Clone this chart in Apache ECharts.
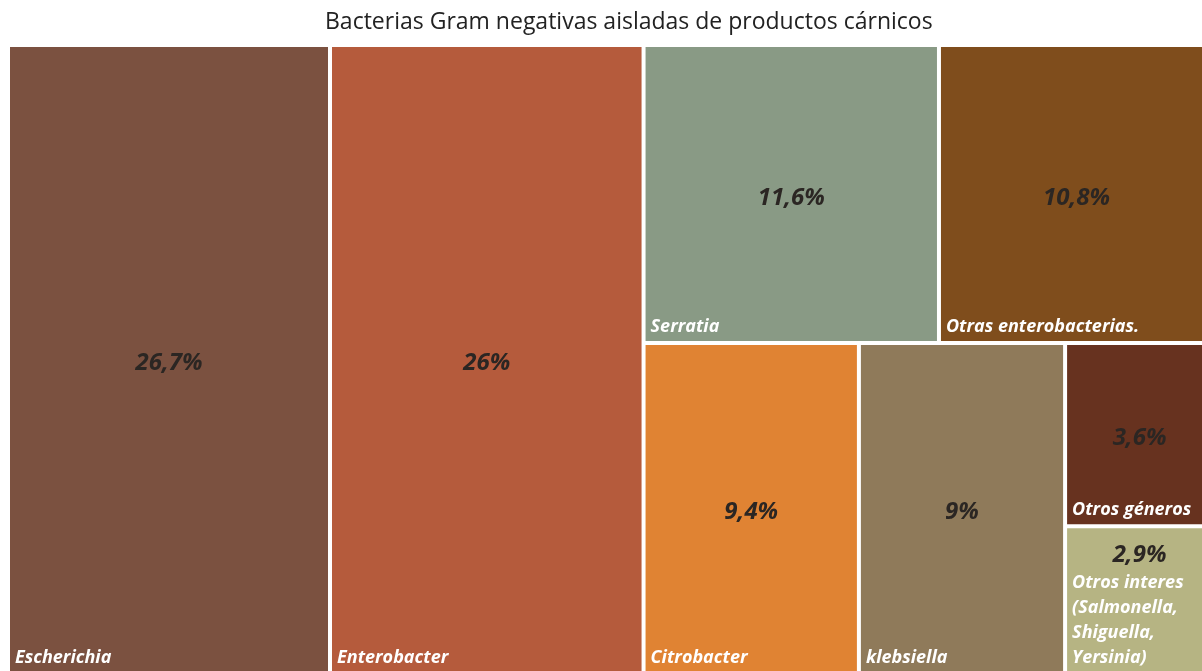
<!DOCTYPE html>
<html>
<head>
<meta charset="utf-8">
<script src="https://cdn.jsdelivr.net/npm/echarts@6/dist/echarts.min.js"></script>
<style>
html,body{margin:0;padding:0;background:#fff;}
#c{width:1202px;height:671px;}
</style>
</head>
<body>
<div id="c"></div>
<script>
const title = 'Bacterias Gram negativas aisladas de productos cárnicos';
const categories = ['Escherichia', 'Enterobacter', 'Serratia', 'Otras enterobacterias.', 'Citrobacter', 'klebsiella', 'Otros géneros', 'Otros interes (Salmonella, Shiguella, Yersinia)'];
const values = [26.7, 26, 11.6, 10.8, 9.4, 9, 3.6, 2.9];
const colors = ['#7B5140', '#B55B3C', '#899A85', '#7F4D1C', '#E08333', '#8F7A5A', '#67321F', '#B6B483'];

const FONT = '"Open Sans", "Noto Sans", sans-serif';
const fmtPct = v => String(v).replace('.', ',') + '%';

const chart = echarts.init(document.getElementById('c'), null, {renderer: 'canvas'});

const common = {
  type: 'treemap',
  left: 8, top: 45, width: 1206, height: 629,
  roam: false,
  nodeClick: false,
  breadcrumb: {show: false},
  sort: 'desc',
  squareRatio: 1,
  levels: [{itemStyle: {gapWidth: 0, borderWidth: 0}}],
  emphasis: {disabled: true},
  animation: false
};

const nameSeries = Object.assign({}, common, {
  data: categories.map((n, i) => ({
    name: n, value: values[i],
    itemStyle: {color: colors[i], borderWidth: 2, borderColor: '#ffffff', gapWidth: 0}
  })),
  label: {
    show: true,
    position: 'insideBottomLeft',
    formatter: '{b}',
    color: '#ffffff',
    fontFamily: FONT,
    fontWeight: 'bold',
    fontStyle: 'italic',
    fontSize: 18,
    lineHeight: 25,
    overflow: 'break',
    padding: [0, 2, 2, 5]
  }
});

const pctSeries = Object.assign({}, common, {
  silent: true,
  data: categories.map((n, i) => {
    const d = {
      name: n, value: values[i],
      itemStyle: {color: 'rgba(0,0,0,0)', borderWidth: 2, borderColor: 'rgba(0,0,0,0)'}
    };
    if (i === categories.length - 1) {
      d.label = {position: 'insideTop', distance: 6};
    }
    return d;
  }),
  label: {
    show: true,
    position: 'inside',
    offset: [0, 4],
    formatter: p => fmtPct(p.value),
    color: '#2b2623',
    fontFamily: FONT,
    fontWeight: 'bold',
    fontStyle: 'italic',
    fontSize: 24
  }
});

chart.setOption({
  animation: false,
  title: {
    text: title,
    left: 320,
    top: 6,
    textStyle: {fontFamily: FONT, fontWeight: 'normal', fontSize: 23, color: '#222222'}
  },
  series: [nameSeries, pctSeries]
});
</script>
</body>
</html>
